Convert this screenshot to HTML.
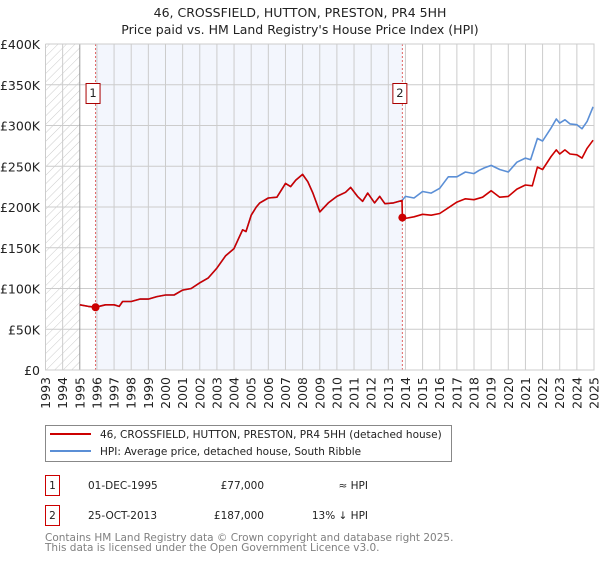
<!DOCTYPE html>
<html><head><meta charset="utf-8"><style>
body{margin:0;background:#fff;font-family:"DejaVu Sans","Liberation Sans",sans-serif;}
svg text{font-family:"DejaVu Sans","Liberation Sans",sans-serif;}
</style></head><body>
<svg id="chart" width="600" height="560" xmlns="http://www.w3.org/2000/svg">
<defs><pattern id="hatch" width="6" height="6" patternUnits="userSpaceOnUse" patternTransform="rotate(45)"><line x1="0" y1="0" x2="0" y2="6" stroke="#ccc" stroke-width="1"/></pattern></defs>
<text x="300" y="17" text-anchor="middle" font-size="12.5" fill="#222">46, CROSSFIELD, HUTTON, PRESTON, PR4 5HH</text>
<text x="300" y="34" text-anchor="middle" font-size="12.5" fill="#222">Price paid vs. HM Land Registry's House Price Index (HPI)</text>
<g id="grid"></g><g id="marks"></g><g id="axes"></g>
<g>
<rect x="45.5" y="425.5" width="406" height="36" fill="#fff" stroke="#888"/>
<line x1="50" y1="434" x2="91" y2="434" stroke="#cc0000" stroke-width="2"/>
<text x="100" y="438" font-size="10.5" fill="#222">46, CROSSFIELD, HUTTON, PRESTON, PR4 5HH (detached house)</text>
<line x1="50" y1="451" x2="91" y2="451" stroke="#5b8fd6" stroke-width="2"/>
<text x="100" y="455" font-size="10.5" fill="#222">HPI: Average price, detached house, South Ribble</text>
</g>
<g font-size="10.5" fill="#222">
<rect x="45.5" y="475.5" width="14" height="20" fill="#fff" stroke="#cc0000"/>
<text x="52.5" y="489" text-anchor="middle">1</text>
<text x="88" y="489">01-DEC-1995</text>
<text x="264" y="489" text-anchor="end">£77,000</text>
<text x="368" y="489" text-anchor="end">≈ HPI</text>
<rect x="45.5" y="505.5" width="14" height="20" fill="#fff" stroke="#cc0000"/>
<text x="52.5" y="519" text-anchor="middle">2</text>
<text x="88" y="519">25-OCT-2013</text>
<text x="264" y="519" text-anchor="end">£187,000</text>
<text x="368" y="519" text-anchor="end">13% ↓ HPI</text>
</g>
<text x="45" y="541" font-size="10.5" fill="#808080">Contains HM Land Registry data © Crown copyright and database right 2025.</text>
<text x="45" y="551" font-size="10.5" fill="#808080">This data is licensed under the Open Government Licence v3.0.</text>
</svg>
<script>
const hpiYears=[1995,1995.5,1995.92,1996.5,1997,1997.3,1997.5,1998,1998.5,1999,1999.5,2000,2000.5,2001,2001.5,2002,2002.5,2003,2003.5,2004,2004.3,2004.5,2004.7,2005,2005.3,2005.5,2006,2006.5,2007,2007.3,2007.6,2008,2008.3,2008.6,2009,2009.5,2010,2010.5,2010.8,2011.2,2011.5,2011.8,2012.2,2012.5,2012.8,2013.3,2013.8,2014,2014.5,2015,2015.5,2016,2016.5,2017,2017.5,2018,2018.3,2018.6,2019,2019.5,2020,2020.5,2021,2021.3,2021.7,2022,2022.5,2022.8,2023,2023.3,2023.6,2024,2024.3,2024.6,2024.95];
const hpiValues=[80,78,77,80,80,78,84,84,87,87,90,92,92,98,100,107,113,125,140,149,163,172,170,190,200,205,211,212,229,225,233,240,231,217,194,205,213,218,224,213,207,217,205,213,204,205,208,213,211,219,217,223,237,237,243,241,245,248,251,246,243,255,260,258,284,281,297,308,303,307,302,301,296,305,323];
const priceYears=[1995,1995.5,1995.92,1996.5,1997,1997.3,1997.5,1998,1998.5,1999,1999.5,2000,2000.5,2001,2001.5,2002,2002.5,2003,2003.5,2004,2004.3,2004.5,2004.7,2005,2005.3,2005.5,2006,2006.5,2007,2007.3,2007.6,2008,2008.3,2008.6,2009,2009.5,2010,2010.5,2010.8,2011.2,2011.5,2011.8,2012.2,2012.5,2012.8,2013.3,2013.8,2013.82,2014,2014.5,2015,2015.5,2016,2016.5,2017,2017.5,2018,2018.5,2019,2019.5,2020,2020.5,2021,2021.4,2021.7,2022,2022.5,2022.8,2023,2023.3,2023.6,2024,2024.3,2024.6,2024.95];
const priceValues=[80,78,77,80,80,78,84,84,87,87,90,92,92,98,100,107,113,125,140,149,163,172,170,190,200,205,211,212,229,225,233,240,231,217,194,205,213,218,224,213,207,217,205,213,204,205,208,187,186,188,191,190,192,199,206,210,209,212,220,212,213,222,227,226,249,246,262,270,265,270,265,264,260,272,282];
const saleYears=[1995.92,2013.82];
const saleValues=[77,187];
const saleLabels=["1","2"];
const yTicks=[0,50,100,150,200,250,300,350,400];
const yTickLabels=["£0","£50K","£100K","£150K","£200K","£250K","£300K","£350K","£400K"];
const xTicks=[1993,1994,1995,1996,1997,1998,1999,2000,2001,2002,2003,2004,2005,2006,2007,2008,2009,2010,2011,2012,2013,2014,2015,2016,2017,2018,2019,2020,2021,2022,2023,2024,2025];

const L=45.5,R=594,T=44,B=370;
const xs=y=>L+(y-1993)/(2025-1993)*(R-L);
const ys=v=>B-v/400*(B-T);
const NS="http://www.w3.org/2000/svg";
function mk(tag,attrs,parent){const e=document.createElementNS(NS,tag);for(const k in attrs)e.setAttribute(k,attrs[k]);parent.appendChild(e);return e;}
const grid=document.getElementById('grid'),marks=document.getElementById('marks'),axes=document.getElementById('axes');
let r=mk('rect',{x:xs(1993),y:T,width:xs(1995)-xs(1993),height:B-T,fill:'url(#hatch)'},grid);


r=mk('rect',{x:xs(saleYears[0]),y:T,width:xs(saleYears[1])-xs(saleYears[0]),height:B-T,fill:'#f3f6fd'},grid);


yTicks.forEach((v,i)=>{
  const l=mk('line',{x1:L,x2:R,y1:ys(v),y2:ys(v),stroke:'#ccc'},grid);
  
  
  const t=mk('text',{x:40,y:ys(v)+5,'text-anchor':'end','font-size':'12.5',fill:'#222'},axes);
  t.textContent=yTickLabels[i];
  
  
});
xTicks.forEach(y=>{
  const l=mk('line',{x1:xs(y),x2:xs(y),y1:T,y2:B,stroke:y===1995?'#999':'#ccc'},grid);
  
  
  const x=xs(y)+4.5;
  const t=mk('text',{x:x,y:377,'text-anchor':'end','font-size':'12.5',fill:'#222',transform:`rotate(-90 ${x} 377)`},axes);
  t.textContent=y;
  
  
});
saleYears.forEach((y,i)=>{
  const l=mk('line',{x1:xs(y),x2:xs(y),y1:T,y2:B,stroke:'#e06666','stroke-dasharray':'2,2'},marks);
  
  
});
function path(xa,va,color,name){
  const d=xa.map((y,i)=>(i?'L':'M')+xs(y).toFixed(1)+','+ys(va[i]).toFixed(1)).join('');
  const p=mk('path',{d:d,fill:'none',stroke:color,'stroke-width':'1.6','stroke-linejoin':'round'},marks);
  
  
}
path(hpiYears,hpiValues,'#5b8fd6','hpi-line');
path(priceYears,priceValues,'#cc0000','price-paid-line');
saleYears.forEach((y,i)=>{
  const c=mk('circle',{cx:xs(y),cy:ys(saleValues[i]),r:4,fill:'#cc0000'},marks);
  
  
  const g=mk('g',{},marks);
  
  
  mk('rect',{x:xs(y)-9.5,y:83.5,width:14,height:20,fill:'#fff',stroke:'#aa0000'},g);
  const t=mk('text',{x:xs(y)-2.5,y:97,'text-anchor':'middle','font-size':'11.5',fill:'#222'},g);
  t.textContent=saleLabels[i];
});
const ax=mk('path',{d:`M${L},${T}V${B}H${R}V${T}H${L}`,fill:'none',stroke:'#ccc'},axes);


</script>
</body></html>
